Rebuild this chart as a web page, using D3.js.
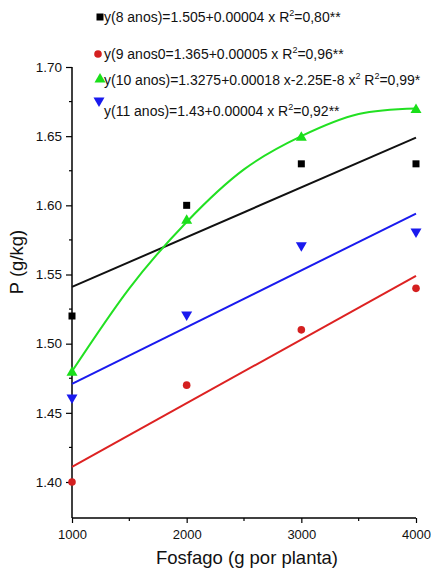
<!DOCTYPE html>
<html><head><meta charset="utf-8">
<script src="https://cdn.jsdelivr.net/npm/d3@7"></script>
<style>body{margin:0;background:#fff}svg{display:block;font-family:"Liberation Sans",Arial,sans-serif}</style>
</head><body><div id="c"></div>
<script>
const doses = [1000, 2000, 3000, 4000];
const y8 = [1.52, 1.60, 1.63, 1.63];
const y9 = [1.40, 1.47, 1.51, 1.54];
const y10 = [1.48, 1.59, 1.65, 1.67];
const y11 = [1.46, 1.52, 1.57, 1.58];
// fitted lines (endpoints at 1000 and 4000)
const fitX = [1000, 4000];
const fit8 = [1.541, 1.649];
const fit9 = [1.411, 1.549];
const fit11 = [1.471, 1.594];
// fitted curve for 10 anos
const fitX10 = [1000, 1500, 2000, 2500, 3000, 3500, 4000];
const fit10 = [1.480, 1.540, 1.588, 1.626, 1.650, 1.666, 1.670];
const yTicks = [1.40, 1.45, 1.50, 1.55, 1.60, 1.65, 1.70];
const xTicks = [1000, 2000, 3000, 4000];
const legend = [
  {pre:"y(8 anos)=1.505+0.00004 x R", post:"=0,80**", color:"#000", shape:"square"},
  {pre:"y(9 anos0=1.365+0.00005 x R", post:"=0,96**", color:"#d42020", shape:"circle"},
  {pre:"y(10 anos)=1.3275+0.00018 x-2.25E-8 x", mid:" R", post:"=0,99*", color:"#1adf1a", shape:"tri"},
  {pre:"y(11 anos)=1.43+0.00004 x R", post:"=0,92**", color:"#1a1aee", shape:"tridown"}
];

const W = 431, H = 575;
const svg = d3.select("#c").append("svg").attr("width", W).attr("height", H);
const x = d3.scaleLinear().domain([1000, 4000]).range([72, 416]);
const y = d3.scaleLinear().domain([1.40, 1.70]).range([482, 67]);
const yBottom = 518;

// axes
const yAxis = d3.axisLeft(y).tickValues(yTicks).tickFormat(d3.format(".2f")).tickSize(6).tickPadding(4).tickSizeOuter(0);
const gy = svg.append("g").attr("transform", "translate(72,0)").call(yAxis);
gy.select(".domain").remove();
svg.append("line").attr("x1",72).attr("x2",72).attr("y1",67).attr("y2",yBottom).attr("stroke","#000").attr("stroke-width",1.5);
gy.selectAll("text").attr("font-size", 13.5).attr("fill","#111");
gy.selectAll("line").attr("stroke-width",1.2);
// minor y ticks
[1.425,1.475,1.525,1.575,1.625,1.675].forEach(v=>{
  svg.append("line").attr("x1",69).attr("x2",72).attr("y1",y(v)).attr("y2",y(v)).attr("stroke","#000").attr("stroke-width",1.2);
});

const xAxis = d3.axisBottom(x).tickValues(xTicks).tickFormat(d3.format("d")).tickSize(5).tickSizeOuter(0);
const gx = svg.append("g").attr("transform", `translate(0,${yBottom})`).call(xAxis);
gx.select(".domain").remove();
svg.append("line").attr("x1",72).attr("x2",416).attr("y1",yBottom).attr("y2",yBottom).attr("stroke","#000").attr("stroke-width",1.5);
gx.selectAll("text").attr("font-size", 13).attr("fill","#111").attr("y", 21).attr("dy", 0);
gx.selectAll("line").attr("stroke-width",1.2);
[1500,2500,3500].forEach(v=>{
  svg.append("line").attr("x1",x(v)).attr("x2",x(v)).attr("y1",yBottom).attr("y2",yBottom+3).attr("stroke","#000").attr("stroke-width",1.2);
});

// axis labels
svg.append("text").attr("x", 247).attr("y", 564).attr("text-anchor","middle").attr("font-size",18.5).attr("fill","#111").text("Fosfago (g por planta)");
svg.append("text").attr("transform","translate(23,262) rotate(-90)").attr("text-anchor","middle").attr("font-size",18.5).attr("fill","#111").text("P (g/kg)");

// fit lines
const line = d3.line().x(d=>x(d[0])).y(d=>y(d[1]));
svg.append("path").attr("d", line(fitX.map((v,i)=>[v,fit8[i]]))).attr("stroke","#111").attr("stroke-width",2).attr("fill","none");
svg.append("path").attr("d", line(fitX.map((v,i)=>[v,fit9[i]]))).attr("stroke","#dd2222").attr("stroke-width",2).attr("fill","none");
svg.append("path").attr("d", line(fitX.map((v,i)=>[v,fit11[i]]))).attr("stroke","#1a1aee").attr("stroke-width",2).attr("fill","none");
svg.append("path").attr("d", line.curve(d3.curveNatural)(fitX10.map((v,i)=>[v,fit10[i]]))).attr("stroke","#22e022").attr("stroke-width",2).attr("fill","none");

// markers
function marker(g, shape, color, cx, cy){
  if(shape==="square") g.append("rect").attr("x",cx-3.5).attr("y",cy-3.5).attr("width",7).attr("height",7).attr("fill",color);
  else if(shape==="circle") g.append("circle").attr("cx",cx).attr("cy",cy).attr("r",3.8).attr("fill",color);
  else if(shape==="tri") g.append("path").attr("d",`M${cx},${cy-5} L${cx+5.5},${cy+4.5} L${cx-5.5},${cy+4.5}Z`).attr("fill",color);
  else g.append("path").attr("d",`M${cx},${cy+5} L${cx+5.5},${cy-4.5} L${cx-5.5},${cy-4.5}Z`).attr("fill",color);
}
const series = [[y8,"square","#000"],[y9,"circle","#d42020"],[y10,"tri","#1adf1a"],[y11,"tridown","#1a1aee"]];
series.forEach(([vals,shape,color])=>{
  vals.forEach((v,i)=>marker(svg,shape,color,x(doses[i]),y(v)));
});

// legend
const legBase = [22, 59, 85, 116];
const legMX = [100, 98, 100, 99];
const legMY = [17, 54, 78, 102];
legend.forEach((L,i)=>{
  marker(svg, L.shape, L.color, legMX[i], legMY[i]);
  const t = svg.append("text").attr("x", 104).attr("y", legBase[i]).attr("font-size", 14).attr("fill","#111");
  t.append("tspan").text(L.pre);
  t.append("tspan").attr("font-size",9).attr("dy",-6).text("2");
  if(L.mid){
    t.append("tspan").attr("dy",6).text(L.mid);
    t.append("tspan").attr("font-size",9).attr("dy",-6).text("2");
  }
  t.append("tspan").attr("dy",6).text(L.post);
});
</script></body></html>
